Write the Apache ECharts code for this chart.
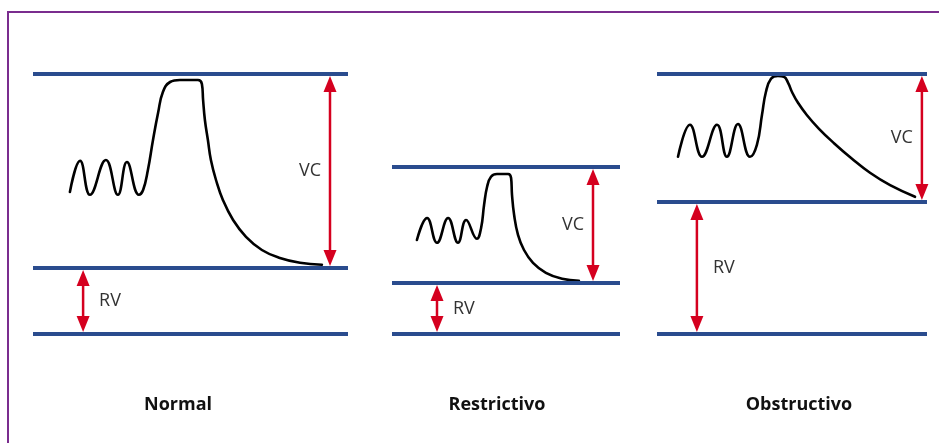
<!DOCTYPE html>
<html>
<head>
<meta charset="utf-8">
<script src="https://cdn.jsdelivr.net/npm/echarts@6/dist/echarts.min.js"></script>
<style>
  html, body { margin: 0; padding: 0; background: #fff; }
  #chart { width: 939px; height: 443px; }
</style>
</head>
<body>
<div id="chart"></div>
<script>
// volumes in litres (0 = empty lungs), time in seconds
var panelNames = ['Normal', 'Restrictivo', 'Obstructivo'];

// TLC, RV, 0
var levelsNormal = [6.5, 1.65, 0];
var levelsRestrictivo = [4.175, 1.275, 0];
var levelsObstructivo = [6.5, 3.3, 0];

var curveNormal = [
  [1.23, 3.55], [1.57, 4.33], [1.9, 3.48], [2.43, 4.35], [2.83, 3.48],
  [3.13, 4.3], [3.53, 3.48], [3.67, 3.6], [3.83, 4.1], [4.0, 4.85],
  [4.17, 5.53], [4.33, 6.05], [4.57, 6.3], [4.9, 6.35], [5.5, 6.35],
  [5.63, 6.25], [5.67, 5.85], [5.73, 5.35], [5.83, 4.85], [5.93, 4.35],
  [6.1, 3.85], [6.33, 3.35], [6.67, 2.85], [7.1, 2.43], [7.63, 2.1],
  [8.23, 1.9], [8.9, 1.78], [9.63, 1.73]
];
var curveRestrictivo = [
  [0.83, 2.35], [1.17, 2.9], [1.5, 2.28], [1.87, 2.9], [2.2, 2.28],
  [2.47, 2.85], [2.83, 2.38], [2.97, 2.65], [3.07, 3.23], [3.17, 3.68],
  [3.3, 3.93], [3.5, 4.0], [3.87, 4.0], [3.97, 3.9], [4.0, 3.48],
  [4.07, 2.98], [4.2, 2.48], [4.4, 2.1], [4.7, 1.78], [5.13, 1.53],
  [5.67, 1.38], [6.23, 1.33]
];
var curveObstructivo = [
  [0.7, 4.43], [1.1, 5.23], [1.5, 4.43], [2.0, 5.23], [2.33, 4.43],
  [2.7, 5.25], [3.1, 4.43], [3.33, 4.73], [3.5, 5.48], [3.63, 6.05],
  [3.8, 6.38], [4.03, 6.45], [4.23, 6.43], [4.37, 6.28], [4.5, 6.05],
  [4.7, 5.78], [5.0, 5.47], [5.4, 5.13], [5.9, 4.77], [6.5, 4.38],
  [7.1, 4.03], [7.77, 3.72], [8.6, 3.43]
];

// x, from, to
var arrowsNormal = [[9.9, 1.65, 6.5], [1.67, 0, 1.65]];
var arrowsRestrictivo = [[6.7, 1.275, 4.175], [1.5, 0, 1.275]];
var arrowsObstructivo = [[8.83, 3.3, 6.5], [1.33, 0, 3.3]];
var arrowLabels = ['VC', 'RV'];

var panelMaxX = [10.5, 7.6, 9];

var BLUE = '#2a4c8e';
var RED = '#d5001f';

var levels = [levelsNormal, levelsRestrictivo, levelsObstructivo];
var curves = [curveNormal, curveRestrictivo, curveObstructivo];
var arrows = [arrowsNormal, arrowsRestrictivo, arrowsObstructivo];
var gridLeft = [33, 392, 657];
var gridWidth = [315, 228, 270];
var titleX = [178, 497, 799];

function makeArrowRenderer() {
  return function (params, api) {
    var x = api.value(0);
    var a = api.coord([x, api.value(1)]);
    var b = api.coord([x, api.value(2)]);
    var cx = a[0];
    var top = Math.min(a[1], b[1]) + 2;
    var bot = Math.max(a[1], b[1]) - 2;
    var hw = 6.5, hl = 16;
    var label = arrowLabels[params.dataIndex];
    var onLeft = label === 'VC';
    return {
      type: 'group',
      children: [
        { type: 'line', shape: { x1: cx, y1: top + hl - 1, x2: cx, y2: bot - hl + 1 },
          style: { stroke: RED, lineWidth: 2.5 } },
        { type: 'polygon', shape: { points: [[cx, top], [cx - hw, top + hl], [cx + hw, top + hl]] },
          style: { fill: RED } },
        { type: 'polygon', shape: { points: [[cx, bot], [cx - hw, bot - hl], [cx + hw, bot - hl]] },
          style: { fill: RED } },
        { type: 'text', x: onLeft ? cx - 9 : cx + 16, y: (top + bot) / 2,
          style: { text: label, fill: '#333', fontSize: 18, fontFamily: 'Open Sans', fontWeight: 'normal',
                   align: onLeft ? 'right' : 'left', verticalAlign: 'middle' } }
      ]
    };
  };
}

var grids = [], xAxes = [], yAxes = [], series = [];
for (var i = 0; i < 3; i++) {
  grids.push({ left: gridLeft[i], width: gridWidth[i], top: 70, height: 268 });
  xAxes.push({ gridIndex: i, type: 'value', min: 0, max: panelMaxX[i], show: false });
  yAxes.push({ gridIndex: i, type: 'value', min: -0.1, max: 6.6, show: false });
  series.push({
    name: panelNames[i],
    type: 'line',
    xAxisIndex: i,
    yAxisIndex: i,
    data: curves[i],
    smooth: 0.45,
    showSymbol: false,
    clip: false,
    lineStyle: { color: '#000', width: 2.6, join: 'round', cap: 'round' },
    silent: true,
    markLine: {
      silent: true,
      symbol: 'none',
      label: { show: false },
      lineStyle: { color: BLUE, width: 4, type: 'solid' },
      data: levels[i].map(function (v) { return { yAxis: v }; })
    }
  });
  series.push({
    type: 'custom',
    xAxisIndex: i,
    yAxisIndex: i,
    clip: false,
    silent: true,
    data: arrows[i],
    encode: { x: 0, y: [1, 2] },
    renderItem: makeArrowRenderer()
  });
}

var graphics = [
  { type: 'polyline', shape: { points: [[8, 443], [8, 12], [939, 12]] },
    style: { stroke: '#7a2d8e', lineWidth: 2, fill: null } }
];
for (var j = 0; j < 3; j++) {
  graphics.push({
    type: 'text', x: titleX[j], y: 405,
    style: { text: panelNames[j], fill: '#111', fontSize: 18, fontWeight: 'bold',
             fontFamily: 'Open Sans', align: 'center', verticalAlign: 'middle' }
  });
}

var chart = echarts.init(document.getElementById('chart'));
chart.setOption({
  animation: false,
  backgroundColor: '#fff',
  grid: grids,
  xAxis: xAxes,
  yAxis: yAxes,
  series: series,
  graphic: graphics
});
</script>
</body>
</html>
